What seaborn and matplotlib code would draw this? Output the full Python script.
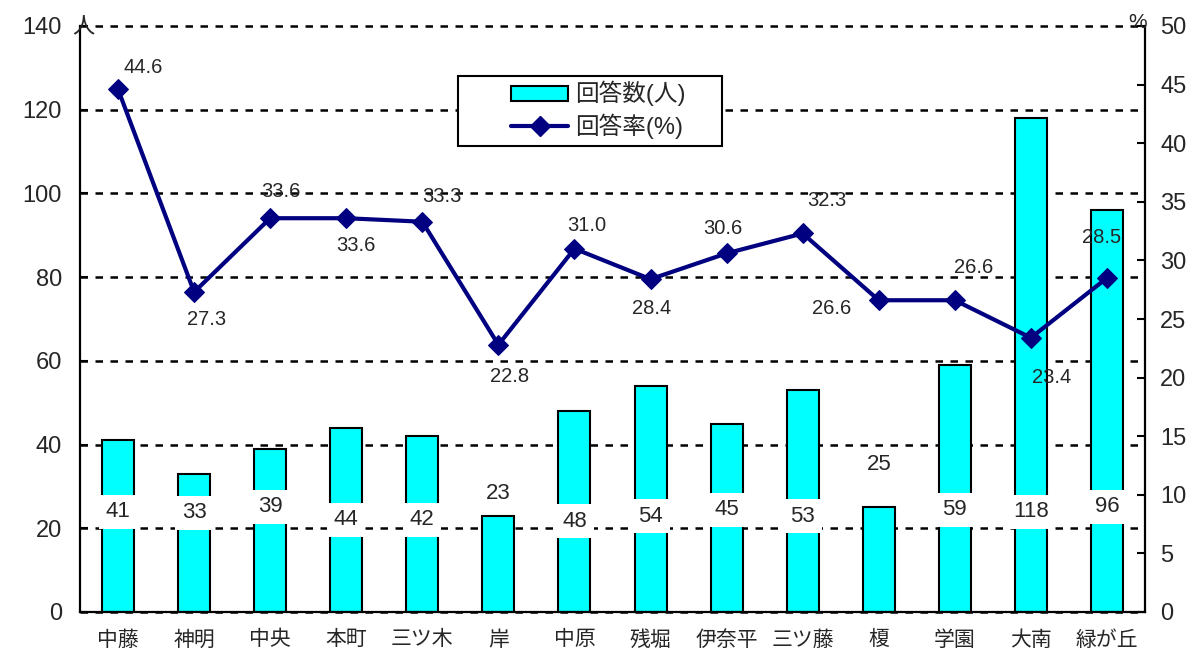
import matplotlib
matplotlib.use("Agg")
import matplotlib.pyplot as plt
from matplotlib.patches import Patch, Rectangle
from matplotlib.lines import Line2D
import numpy as np
import pandas as pd
import seaborn as sns

# 地区別の回答数と回答率
areas = ['中藤', '神明', '中央', '本町', '三ツ木', '岸', '中原', '残堀',
         '伊奈平', '三ツ藤', '榎', '学園', '大南', '緑が丘']
counts = [41, 33, 39, 44, 42, 23, 48, 54, 45, 53, 25, 59, 118, 96]
rates = [44.6, 27.3, 33.6, 33.6, 33.3, 22.8, 31.0, 28.4, 30.6, 32.3,
         26.6, 26.6, 23.4, 28.5]

left_ticks = list(range(0, 141, 20))
right_ticks = list(range(0, 51, 5))

# label placement: y of each count label (left-axis units),
# pixel offsets of each rate label from its marker
count_label_y = [23.9, 23.7, 25.1, 22.0, 22.0, 28.2, 21.7, 22.9, 24.4, 22.9,
                 35.2, 24.4, 23.9, 25.1]
rate_label_offset = [(25, 22), (12, -27), (11, 27), (10, -27), (20, 25),
                     (11, -32), (12, 23), (1, -29), (-4, 25), (24, 33),
                     (-47, -8), (19, 33), (21, -40), (-5, 40)]

df = pd.DataFrame({'地区': areas, '回答数': counts, '回答率': rates})

sns.set_style('white')
plt.rcParams['font.family'] = ['Liberation Sans', 'Noto Sans CJK JP', 'DejaVu Sans']

BAR = '#00FFFF'
LINE = '#000080'

fig = plt.figure(figsize=(12.04, 6.5), dpi=100)
ax = fig.add_axes([80 / 1204, 38 / 650, 1065 / 1204, 586 / 650])

sns.barplot(data=df, x='地区', y='回答数', ax=ax, color=BAR, saturation=1,
            width=0.42, edgecolor='black', linewidth=1.5, zorder=2)
ax.set_xlim(-0.5, len(areas) - 0.5)
ax.set_ylim(0, 140)
ax.set_yticks(left_ticks)
ax.set_axisbelow(True)
ax.yaxis.grid(True, color='black', linestyle=(0, (3, 3)), linewidth=1.8)
ax.xaxis.grid(False)
for gl in ax.get_ygridlines():
    gl.set_clip_on(False)
ax.set_xlabel('')
ax.set_ylabel('')

# count labels on white boxes
for i, (c, y) in enumerate(zip(counts, count_label_y)):
    ax.text(i, y, str(c), ha='center', va='center', fontsize=16, zorder=5,
            bbox=dict(boxstyle='square,pad=0.3', facecolor='white', edgecolor='none'))

ax2 = ax.twinx()
sns.lineplot(x=np.arange(len(areas)), y=rates, ax=ax2, color=LINE,
             linewidth=3, marker='D', markersize=10, markeredgecolor=LINE,
             zorder=4)
ax2.set_ylim(0, 50)
ax2.set_yticks(right_ticks)
ax2.set_xlim(-0.5, len(areas) - 0.5)
ax2.set_ylabel('')

for i, (r, off) in enumerate(zip(rates, rate_label_offset)):
    ax2.annotate(f'{r:.1f}', (i, r), xytext=off, textcoords='offset pixels',
                 ha='center', va='center', fontsize=14.5, zorder=6)

# axes styling
for a in (ax, ax2):
    a.spines['top'].set_visible(False)
    for s in ('left', 'right', 'bottom'):
        a.spines[s].set_color('black')
        a.spines[s].set_linewidth(1.6)
ax.spines['right'].set_visible(False)
ax2.spines['left'].set_visible(False)
ax2.spines['bottom'].set_visible(False)

ax.set_xticks(range(len(areas)))
ax.set_xticklabels(areas, fontsize=15)
ax.set_xticks(np.arange(0.5, len(areas) - 1, 1), minor=True)
ax.tick_params(axis='x', which='major', length=0, pad=13)
ax.tick_params(axis='x', which='minor', direction='in', length=6, width=1.5,
               color='black')
ax.tick_params(axis='y', direction='in', length=6, width=1.5, color='black',
               labelsize=17, pad=13)
ax2.tick_params(axis='y', direction='in', length=6, width=1.5, color='black',
                labelsize=17, pad=11)

# unit marks at axis tops
fig.text(83 / 1204, 1 - 27 / 650, '人', ha='center', va='center', fontsize=16,
         family=['Noto Sans CJK JP'])
fig.text(1138 / 1204, 1 - 22 / 650, '%', ha='center', va='center', fontsize=15)

# legend: framed box with the entries inset from its left edge
ax2.add_patch(Rectangle((0.3549, 0.7952), 0.2479, 0.1195, transform=ax2.transAxes,
                        facecolor='white', edgecolor='black', linewidth=1.5,
                        clip_on=False, zorder=9))
handles = [Patch(facecolor=BAR, edgecolor='black', linewidth=1.5),
           Line2D([], [], color=LINE, linewidth=3, marker='D', markersize=10)]
leg = ax2.legend(handles, ['回答数(人)', '回答率(%)'], loc='upper left',
                 bbox_to_anchor=(0.405, 0.906), frameon=False, fontsize=17,
                 handlelength=2.4, handleheight=0.6, borderpad=0,
                 labelspacing=0.3, handletextpad=0.3, borderaxespad=0)
leg.set_zorder(10)

fig.savefig('out.png', dpi=100)
